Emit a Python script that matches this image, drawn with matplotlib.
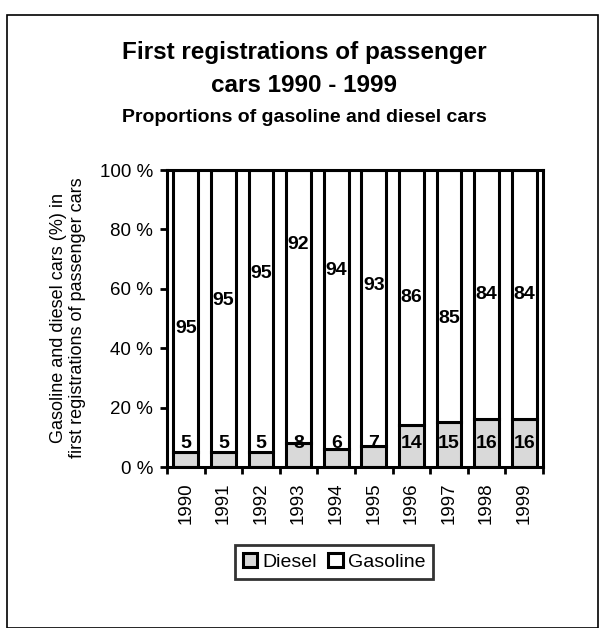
import matplotlib
matplotlib.use("Agg")
import matplotlib.pyplot as plt
import numpy as np
from matplotlib.patches import Rectangle

plt.rcParams['font.family'] = ['Liberation Sans', 'DejaVu Sans']

years = ['1990', '1991', '1992', '1993', '1994', '1995', '1996', '1997', '1998', '1999']
diesel = [5, 5, 5, 8, 6, 7, 14, 15, 16, 16]
gasoline = [95, 95, 95, 92, 94, 93, 86, 85, 84, 84]
# vertical positions (in %) of the gasoline value labels as seen in the reference
gas_label_pos = [46.5, 56, 65, 75, 66, 61, 57, 50, 58, 58]
diesel_label_pos = 8

fig = plt.figure(figsize=(6.08, 6.28), dpi=100)
fig.patch.set_facecolor('white')
fig.add_artist(Rectangle((7/608, 0), 591/608, 613/628, transform=fig.transFigure,
                         fill=False, edgecolor='black', linewidth=1.2))

ax = fig.add_axes([167/608, 1-467/628, (543-167)/608, (467-170)/628])
x = np.arange(len(years))
w = 0.66
ax.bar(x, diesel, width=w, color='#d9d9d9', edgecolor='black', linewidth=2.2, label='Diesel')
ax.bar(x, gasoline, width=w, bottom=diesel, color='white', edgecolor='black', linewidth=2.2, label='Gasoline')

for i in range(len(years)):
    ax.text(x[i], diesel_label_pos, str(diesel[i]), ha='center', va='center',
            fontsize=14, fontweight='bold')
    ax.text(x[i], gas_label_pos[i], str(gasoline[i]), ha='center', va='center',
            fontsize=14, fontweight='bold')

ax.set_xlim(-0.5, len(years) - 0.5)
ax.set_ylim(0, 100)
ax.set_yticks([0, 20, 40, 60, 80, 100])
ax.set_yticklabels(['0 %', '20 %', '40 %', '60 %', '80 %', '100 %'], fontsize=13.5)
ax.set_xticks(x)
ax.set_xticklabels(years, rotation=90, fontsize=13.5)
ax.set_xticks(np.arange(len(years) + 1) - 0.5, minor=True)
ax.tick_params(axis='x', which='major', length=0, pad=11)
ax.tick_params(axis='x', which='minor', length=5, width=2, direction='out')
ax.tick_params(axis='y', length=5, width=2, direction='out', pad=5)
for s in ax.spines.values():
    s.set_linewidth(2.2)

fig.text(68/608, 1-318/628,
         'Gasoline and diesel cars (%) in\nfirst registrations of passenger cars',
         rotation=90, ha='center', va='center', fontsize=13, linespacing=1.2)

fig.text(0.5, 1-52/628, 'First registrations of passenger', ha='center', va='center',
         fontsize=17.5, fontweight='bold')
fig.text(0.5, 1-85/628, 'cars 1990 - 1999', ha='center', va='center',
         fontsize=17.5, fontweight='bold')
fig.text(0.5, 1-117/628, 'Proportions of gasoline and diesel cars', ha='center', va='center',
         fontsize=14, fontweight='bold')

leg = fig.legend(loc='center', bbox_to_anchor=(334/608, 1-562/628), ncol=2,
                 fontsize=14, frameon=True, fancybox=False, handlelength=0.75,
                 handleheight=0.75, handletextpad=0.25, columnspacing=0.6,
                 borderpad=0.4, borderaxespad=0)
leg.get_frame().set_edgecolor('black')
leg.get_frame().set_linewidth(2)
for p in leg.get_patches():
    p.set_linewidth(2.2)

fig.savefig('out.png', dpi=100)
